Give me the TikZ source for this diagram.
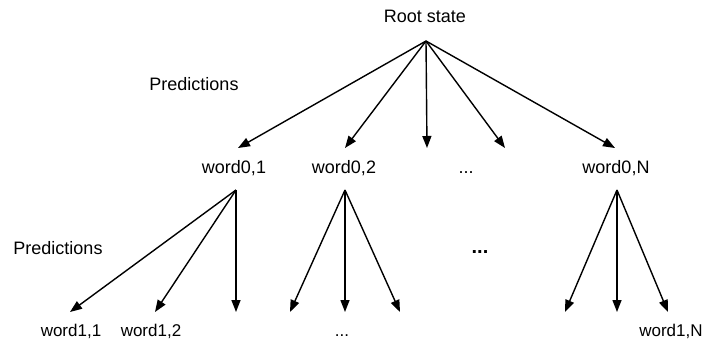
\documentclass[tikz,border=0pt]{standalone}
\usepackage{fontspec}
\setmainfont{Liberation Sans}
\usetikzlibrary{arrows.meta}
\begin{document}
\begin{tikzpicture}[x=1pt,y=-1pt,
  lbl/.style={inner sep=0pt,anchor=base,font=\fontsize{18}{21}\selectfont},
  leaf/.style={inner sep=0pt,anchor=base,font=\fontsize{17}{20}\selectfont},
  branch/.style={line width=1.4pt,-{Triangle[length=12pt,width=9pt]}}]
\useasboundingbox (0,0) rectangle (702,340);

% labels
\node[lbl] (root) at (425,23) {Root state};
\node[lbl] (pred0) at (194,90) {Predictions};
\node[lbl] (w01) at (234,173) {word0,1};
\node[lbl] (w02) at (344,173) {word0,2};
\node[lbl] (wdots) at (466,173) {...};
\node[lbl] (w0N) at (616,173) {word0,N};
\node[lbl] (pred1) at (58,254) {Predictions};
\node[inner sep=0pt,font=\fontsize{20}{22}\selectfont\bfseries] (gap) at (480,252) {...};
\node[leaf] (w11) at (71,336) {word1,1};
\node[leaf] (w12) at (151,336) {word1,2};
\node[leaf] (wbot) at (342,336) {...};
\node[leaf] (w1N) at (671,336) {word1,N};

% branching points and arrow ends
\coordinate (r) at (426,41);
\coordinate (a1) at (236,190);
\coordinate (a2) at (345,190);
\coordinate (aN) at (617,190);
\foreach \n/\x in {e1/238,e2/345,e3/427,e4/505,e5/615}
  \coordinate (\n) at (\x,148);
\foreach \n/\x in {f1/70,f2/155,f3/236,g1/290,g2/345,g3/400,h1/565,h2/617,h3/668}
  \coordinate (\n) at (\x,312);

% first level
\foreach \n in {e1,e2,e3,e4,e5}
  \draw[branch] (r) -- (\n);
% second level
\foreach \n in {f1,f2,f3}
  \draw[branch] (a1) -- (\n);
\foreach \n in {g1,g2,g3}
  \draw[branch] (a2) -- (\n);
\foreach \n in {h1,h2,h3}
  \draw[branch] (aN) -- (\n);
\end{tikzpicture}
\end{document}
